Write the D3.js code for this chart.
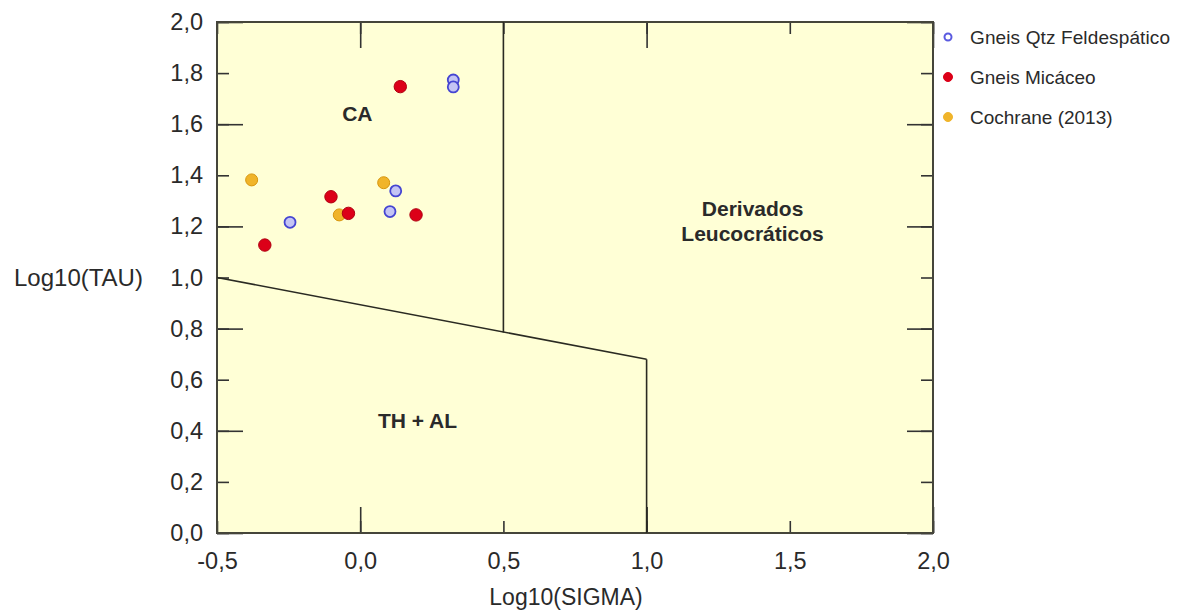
<!DOCTYPE html>
<html>
<head>
<meta charset="utf-8">
<script src="https://cdn.jsdelivr.net/npm/d3@7"></script>
<style>
  body { margin: 0; background: #fff; }
  svg text { font-family: "Liberation Sans", Arial, sans-serif; fill: #2a2a2a; }
</style>
</head>
<body>
<svg id="chart" width="1182" height="611"></svg>
<script>
// series values [log10(sigma), log10(tau)]
var gneisQtz = [[0.325, 1.773], [0.325, 1.746], [0.124, 1.339], [0.104, 1.258], [-0.245, 1.216]];
var gneisMic = [[0.140, 1.747], [-0.102, 1.316], [-0.041, 1.251], [0.195, 1.245], [-0.333, 1.127]];
var cochrane = [[-0.379, 1.382], [0.082, 1.371], [-0.073, 1.245]];

var seriesNames = ["Gneis Qtz Feldespático", "Gneis Micáceo", "Cochrane (2013)"];

// field boundaries of the diagram
var boundaryLines = [
  [[-0.5, 1.0], [1.0, 0.68]],
  [[0.5, 2.0], [0.5, 0.785]],
  [[1.0, 0.68], [1.0, 0.0]]
];
var fieldLabels = [
  {text: ["CA"], x: -0.01, y: 1.64},
  {text: ["TH + AL"], x: 0.2, y: 0.44},
  {text: ["Derivados", "Leucocráticos"], x: 1.37, y: 1.22}
];

var xTicks = [-0.5, 0, 0.5, 1, 1.5, 2];
var xMajor = [0, 1, 2];
var yTicks = [0, 0.2, 0.4, 0.6, 0.8, 1.0, 1.2, 1.4, 1.6, 1.8, 2.0];
var yMajor = [0, 0.4, 0.8, 1.2, 1.6, 2.0];

var margin = {top: 22, left: 217};
var w = 716, h = 511;

var x = d3.scaleLinear().domain([-0.5, 2]).range([0, w]);
var y = d3.scaleLinear().domain([0, 2]).range([h, 0]);
var comma = function(d){ return d3.format(".1f")(d).replace(".", ",").replace("\u2212", "-"); };

var svg = d3.select("#chart");
var g = svg.append("g")
  .attr("transform", "translate(" + margin.left + "," + margin.top + ")");

g.append("rect")
  .attr("width", w).attr("height", h)
  .attr("fill", "#ffffd6");

// axes: short ticks everywhere, longer ticks on the majors
function axisStyle(sel){
  sel.select(".domain").remove();
  sel.selectAll(".tick line").attr("stroke", "#333").attr("stroke-width", 1.6);
  sel.selectAll(".tick text").attr("font-size", "23.5px").attr("fill", "#2a2a2a");
}

g.append("g").attr("transform", "translate(0," + h + ")")
  .call(d3.axisBottom(x).tickValues(xTicks).tickSize(-12).tickPadding(19).tickFormat(comma))
  .call(axisStyle);
g.append("g").attr("transform", "translate(0," + h + ")")
  .call(d3.axisBottom(x).tickValues(xMajor).tickSize(-26).tickFormat(""))
  .call(axisStyle);
g.append("g")
  .call(d3.axisTop(x).tickValues(xTicks).tickSize(-12).tickFormat(""))
  .call(axisStyle);
g.append("g")
  .call(d3.axisTop(x).tickValues(xMajor).tickSize(-26).tickFormat(""))
  .call(axisStyle);

g.append("g")
  .call(d3.axisLeft(y).tickValues(yTicks).tickSize(-12).tickPadding(14).tickFormat(comma))
  .call(axisStyle);
g.append("g")
  .call(d3.axisLeft(y).tickValues(yMajor).tickSize(-26).tickFormat(""))
  .call(axisStyle);
g.append("g").attr("transform", "translate(" + w + ",0)")
  .call(d3.axisRight(y).tickValues(yTicks).tickSize(-12).tickFormat(""))
  .call(axisStyle);
g.append("g").attr("transform", "translate(" + w + ",0)")
  .call(d3.axisRight(y).tickValues(yMajor).tickSize(-26).tickFormat(""))
  .call(axisStyle);

// frame
g.append("rect")
  .attr("width", w).attr("height", h)
  .attr("fill", "none").attr("stroke", "#45453a").attr("stroke-width", 2);

// boundaries
var line = d3.line().x(function(d){ return x(d[0]); }).y(function(d){ return y(d[1]); });
g.selectAll(".boundary")
  .data(boundaryLines)
  .enter().append("path")
  .attr("class", "boundary")
  .attr("d", line)
  .attr("fill", "none")
  .attr("stroke", "#2a2a22")
  .attr("stroke-width", 1.6);

// field labels
fieldLabels.forEach(function(f){
  var t = g.append("text")
    .attr("x", x(f.x)).attr("y", y(f.y))
    .attr("text-anchor", "middle")
    .attr("font-size", "21px")
    .attr("font-weight", "bold")
    .attr("fill", "#1a1a1a");
  f.text.forEach(function(s, i){
    t.append("tspan")
      .attr("x", x(f.x))
      .attr("dy", i === 0 ? (-(f.text.length - 1) * 12.5 + 7) : 25)
      .text(s);
  });
});

// points
var styles = [
  {data: cochrane, fill: "#f0b42a", stroke: "#d8960e", r: 6, sw: 1},
  {data: gneisQtz, fill: "#c4c4f4", stroke: "#4545d2", r: 5.5, sw: 1.8},
  {data: gneisMic, fill: "#dc0018", stroke: "#b00010", r: 6.2, sw: 1}
];
styles.forEach(function(s){
  g.append("g").selectAll("circle")
    .data(s.data)
    .enter().append("circle")
    .attr("cx", function(d){ return x(d[0]); })
    .attr("cy", function(d){ return y(d[1]); })
    .attr("r", s.r)
    .attr("fill", s.fill)
    .attr("stroke", s.stroke)
    .attr("stroke-width", s.sw);
});

// axis titles
svg.append("text")
  .attr("x", 566).attr("y", 605)
  .attr("text-anchor", "middle")
  .attr("font-size", "23px")
  .text("Log10(SIGMA)");
svg.append("text")
  .attr("x", 14).attr("y", margin.top + y(1.0) + 8)
  .attr("font-size", "24px")
  .text("Log10(TAU)");

// legend
var legendMarks = [
  {fill: "#ffffff", stroke: "#5a5ae0", r: 3.5, sw: 2},
  {fill: "#dc0018", stroke: "#dc0018", r: 4.5, sw: 1},
  {fill: "#f0b42a", stroke: "#f0b42a", r: 4.5, sw: 1}
];
var legend = svg.append("g").attr("transform", "translate(948,37)");
seriesNames.forEach(function(name, i){
  var row = legend.append("g").attr("transform", "translate(0," + (i * 40) + ")");
  row.append("circle")
    .attr("r", legendMarks[i].r)
    .attr("fill", legendMarks[i].fill)
    .attr("stroke", legendMarks[i].stroke)
    .attr("stroke-width", legendMarks[i].sw);
  row.append("text")
    .attr("x", 22).attr("y", 7)
    .attr("font-size", "19px")
    .attr("fill", "#1f1f1f")
    .attr("textLength", i === 0 ? 200 : null)
    .text(name);
});
</script>
</body>
</html>
